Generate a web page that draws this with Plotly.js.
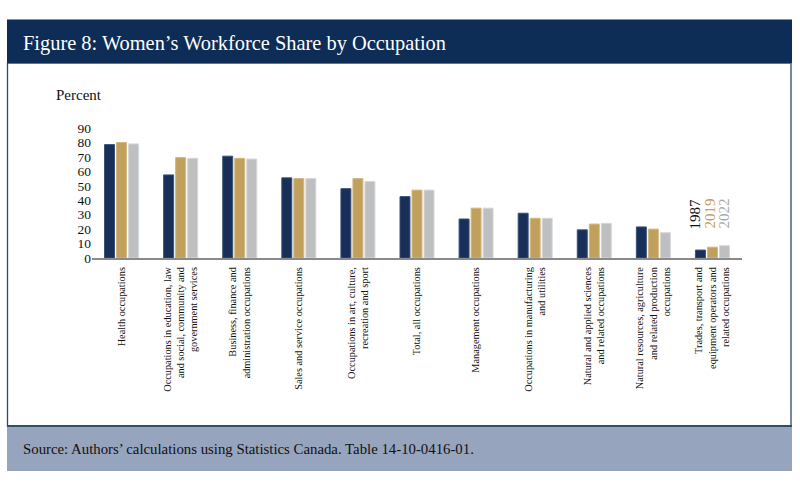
<!DOCTYPE html>
<html>
<head>
<meta charset="utf-8">
<script src="https://cdn.plot.ly/plotly-3.0.1.min.js"></script>
<style>
html,body{margin:0;padding:0;background:#fff;}
#chart{width:800px;height:482px;}
</style>
</head>
<body>
<div id="chart"></div>
<script>
var categories = [
  "Health occupations",
  "Occupations in education, law<br>and social, community and<br>government services",
  "Business, finance and<br>administration occupations",
  "Sales and service occupations",
  "Occupations in art, culture,<br>recreation and sport",
  "Total, all occupations",
  "Management occupations",
  "Occupations in manufacturing<br>and utilities",
  "Natural and applied sciences<br>and related occupations",
  "Natural resources, agriculture<br>and related production<br>occupations",
  "Trades, transport and<br>equipment operators and<br>related occupations"
];
var values1987 = [78.5, 57.5, 70.5, 55.5, 48, 42.5, 27, 31, 19.5, 21.5, 5.5];
var values2019 = [80, 69.5, 69, 55, 55, 47, 34.5, 27.5, 23.5, 20, 7.5];
var values2022 = [79, 69, 68.5, 55, 53, 47, 34.5, 27.5, 24, 17.5, 8.5];
var seriesNames = ["1987", "2019", "2022"];
var yTickVals = [0, 10, 20, 30, 40, 50, 60, 70, 80, 90];

var W = 800, H = 482;
function px(x){ return x / W; }
function py(y){ return 1 - y / H; }

var serif = "Liberation Serif, Times New Roman, serif";
var colors = ["#172f59", "#c0a05c", "#bebfc1"];
var edge = ["#3b5178", "#d3b97f", "#d6d7d9"];

var series = [values1987, values2019, values2022];
var data = series.map(function(v, i){
  return {
    type: "bar",
    name: seriesNames[i],
    x: categories,
    y: v,
    marker: {color: colors[i], line: {color: edge[i], width: 1}},
    hoverinfo: "y"
  };
});

var layout = {
  width: W, height: H,
  margin: {l: 0, r: 0, t: 0, b: 0},
  paper_bgcolor: "#ffffff",
  plot_bgcolor: "rgba(0,0,0,0)",
  showlegend: false,
  barmode: "group",
  bargap: 0.39,
  bargroupgap: 0.17,
  font: {family: serif, color: "#111111"},
  xaxis: {
    domain: [px(92), px(742)],
    showline: true, linecolor: "#8a8a8a", linewidth: 2,
    showgrid: false, ticks: "",
    tickangle: -90,
    ticklabelstandoff: 3,
    tickfont: {family: serif, size: 10.3, color: "#111111"},
    fixedrange: true
  },
  yaxis: {
    domain: [py(258), py(128)],
    range: [0, 90],
    tickvals: yTickVals,
    ticktext: yTickVals.map(String),
    showgrid: false, zeroline: false, showline: false, ticks: "",
    tickfont: {family: serif, size: 13.5, color: "#111111"},
    fixedrange: true
  },
  shapes: [
    {type: "rect", xref: "paper", yref: "paper", x0: px(7.5), x1: px(791), y0: py(426), y1: py(63),
     line: {color: "#2b4a6d", width: 1.3}, fillcolor: "rgba(0,0,0,0)", layer: "below"},
    {type: "rect", xref: "paper", yref: "paper", x0: px(7), x1: px(792), y0: py(63), y1: py(19.5),
     line: {width: 0}, fillcolor: "#0d2c56", layer: "below"},
    {type: "rect", xref: "paper", yref: "paper", x0: px(7), x1: px(792), y0: py(471), y1: py(426),
     line: {width: 0}, fillcolor: "#96a4be", layer: "below"},
    {type: "line", xref: "paper", yref: "paper", x0: px(7), x1: px(792), y0: py(426), y1: py(426),
     line: {color: "#2f4e6e", width: 2.2}}
  ],
  annotations: [
    {xref: "paper", yref: "paper", x: px(21), y: py(43), xanchor: "left", yanchor: "middle",
     text: "Figure 8: Women’s Workforce Share by Occupation", showarrow: false,
     font: {family: serif, size: 20.4, color: "#ffffff"}},
    {xref: "paper", yref: "paper", x: px(54), y: py(95), xanchor: "left", yanchor: "middle",
     text: "Percent", showarrow: false,
     font: {family: serif, size: 15, color: "#111111"}},
    {xref: "paper", yref: "paper", x: px(21), y: py(449), xanchor: "left", yanchor: "middle",
     text: "Source: Authors’ calculations using Statistics Canada. Table 14-10-0416-01.", showarrow: false,
     font: {family: serif, size: 14.8, color: "#111111"}},
    {xref: "paper", yref: "paper", x: px(694.5), y: py(214), xanchor: "center", yanchor: "middle",
     text: seriesNames[0], textangle: -90, showarrow: false,
     font: {family: serif, size: 15, color: "#111111"}},
    {xref: "paper", yref: "paper", x: px(709.5), y: py(214), xanchor: "center", yanchor: "middle",
     text: seriesNames[1], textangle: -90, showarrow: false,
     font: {family: serif, size: 15, color: colors[1]}},
    {xref: "paper", yref: "paper", x: px(723.5), y: py(214), xanchor: "center", yanchor: "middle",
     text: seriesNames[2], textangle: -90, showarrow: false,
     font: {family: serif, size: 15, color: "#a9aaac"}}
  ]
};

Plotly.newPlot("chart", data, layout, {displayModeBar: false, staticPlot: true});
</script>
</body>
</html>
